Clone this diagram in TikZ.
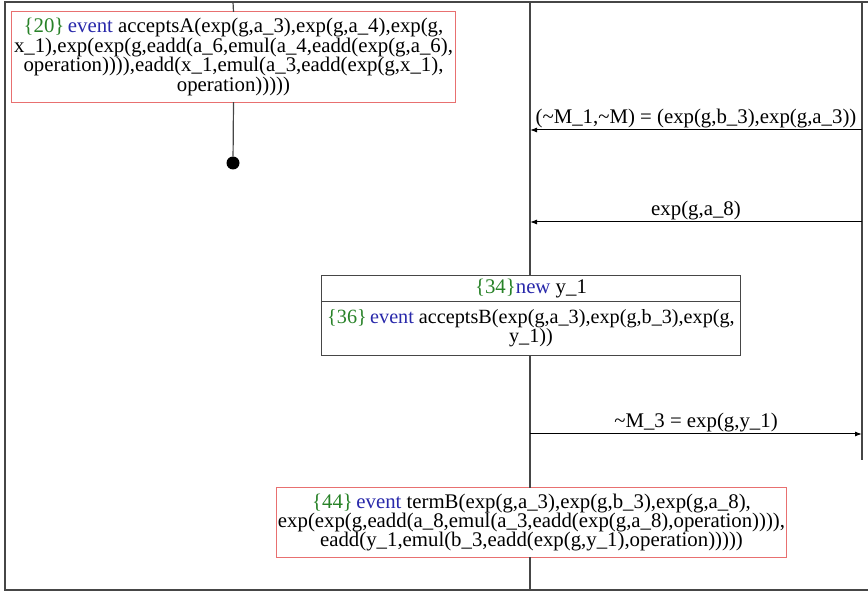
\documentclass[tikz,border=0pt]{standalone}
\usepackage{fontspec}
\setmainfont{Liberation Serif}
\usetikzlibrary{arrows.meta}
\definecolor{numgreen}{RGB}{40,130,40}
\definecolor{kwblue}{RGB}{40,40,170}
\definecolor{boxred}{RGB}{232,112,112}
\definecolor{linegray}{RGB}{70,70,70}
\newcommand{\nmraw}[1]{{\color{numgreen}\{#1\}}}
\newcommand{\nm}[1]{\nmraw{#1}\,}
\newcommand{\kw}[1]{{\color{kwblue}#1}}
\newcommand{\tld}{\textasciitilde}
\tikzset{
  txt/.style={font=\fontsize{20.8}{19.4}\selectfont, align=center, inner sep=1pt},
  evbox/.style={txt},
  grbox/.style={txt},
  redframe/.style={draw=boxred, line width=1pt},
  grayframe/.style={draw=linegray, line width=1pt},
  life/.style={draw=linegray, line width=1.2pt},
  msg/.style={draw=black, line width=1pt, -{Latex[length=7pt,width=5pt]}},
  lbl/.style={txt, above, inner sep=2pt},
}
\begin{document}
\begin{tikzpicture}[x=1pt,y=-1pt]
\useasboundingbox (0,0) rectangle (868,593);
% frame
\draw[linegray, line width=1.4pt] (868,2) -- (5,2) -- (5,590) -- (868,590);
% lifeline coordinates
\coordinate (aTop) at (233,2);
\coordinate (bTop) at (530,2);
\coordinate (rTop) at (862,2);
\coordinate (bBot) at (530,590);
\coordinate (rBot) at (862,460);
% nodes
\node[evbox, minimum width=443pt, minimum height=90pt] (evA) at (233.5,57)
 {\nm{20}\kw{event} acceptsA(exp(g,a\_3),exp(g,a\_4),exp(g,\\
 x\_1),exp(exp(g,eadd(a\_6,emul(a\_4,eadd(exp(g,a\_6),\\
 operation)))),eadd(x\_1,emul(a\_3,eadd(exp(g,x\_1),\\
 operation)))))};
\node[circle, fill=black, inner sep=0pt, minimum size=13pt] (dot) at (233,163) {};
\node[grbox, minimum width=418pt, minimum height=25pt] (n34) at (531,288.5)
 {\nmraw{34}\kw{new} y\_1};
\node[grbox, font=\fontsize{20.2}{19.4}\selectfont, inner sep=0pt, minimum height=54pt, anchor=north] (n36) at (n34.south)
 {\nm{36}\kw{event} acceptsB(exp(g,a\_3),exp(g,b\_3),exp(g,\\ y\_1))};
\node[evbox, minimum width=507pt, minimum height=69pt] (evB) at (531.5,522.5)
 {\nm{44}\kw{event} termB(exp(g,a\_3),exp(g,b\_3),exp(g,a\_8),\\
 exp(exp(g,eadd(a\_8,emul(a\_3,eadd(exp(g,a\_8),operation)))),\\
 eadd(y\_1,emul(b\_3,eadd(exp(g,y\_1),operation)))))};
% box frames
\draw[redframe] (evA.north west) rectangle (evA.south east);
\draw[redframe] (evB.north west) rectangle (evB.south east);
\draw[grayframe] (n34.north west) rectangle (n34.south east);
\draw[grayframe] (n34.south west) rectangle (n34.south east |- n36.south);
% lifelines
\draw[life] (aTop) -- (evA.north);
\draw[life] (evA.south) -- (dot);
\draw[life] (bTop) -- (bTop |- n34.north);
\draw[life] (bTop |- n36.south) -- (bTop |- evB.north);
\draw[life] (bTop |- evB.south) -- (bBot);
\draw[life] (rTop) -- (rBot);
% messages
\coordinate (r1) at (862,130); \coordinate (b1) at (530,130);
\coordinate (r2) at (862,222); \coordinate (b2) at (530,222);
\coordinate (r3) at (862,434); \coordinate (b3) at (530,434);
\draw[msg] (r1) -- node[lbl] {(\tld M\_1,\tld M) = (exp(g,b\_3),exp(g,a\_3))} (b1);
\draw[msg] (r2) -- node[lbl] {exp(g,a\_8)} (b2);
\draw[msg] (b3) -- node[lbl] {\tld M\_3 = exp(g,y\_1)} (r3);
\end{tikzpicture}
\end{document}
